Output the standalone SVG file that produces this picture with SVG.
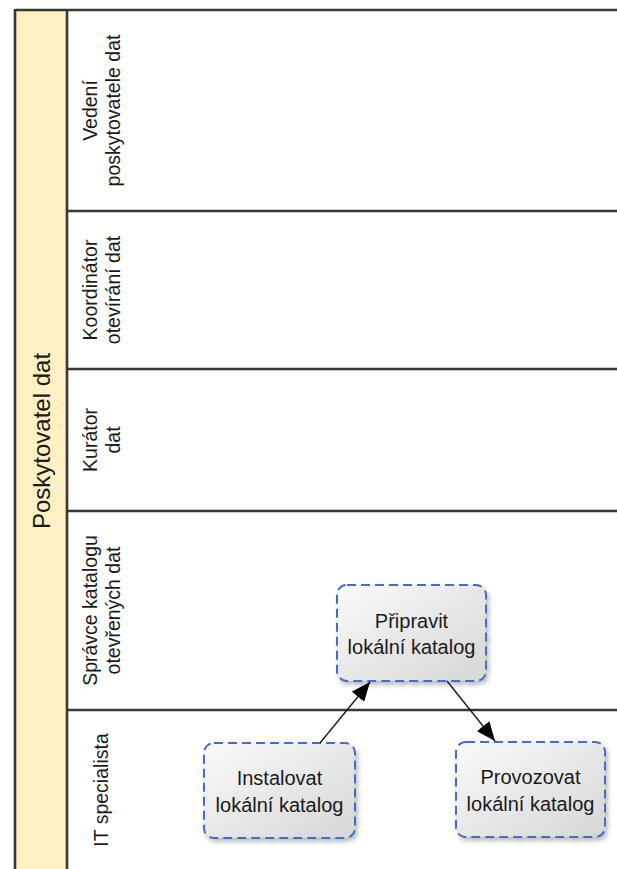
<svg xmlns="http://www.w3.org/2000/svg" width="617" height="869" viewBox="0 0 617 869">
  <defs>
    <linearGradient id="taskFill" x1="0" y1="0" x2="1" y2="1">
      <stop offset="0" stop-color="#fafafa"/>
      <stop offset="1" stop-color="#d6d6d6"/>
    </linearGradient>
    <filter id="shadow" x="-20%" y="-20%" width="140%" height="140%">
      <feDropShadow dx="2" dy="3" stdDeviation="2.5" flood-color="#000" flood-opacity="0.28"/>
    </filter>
    <marker id="arrow" markerUnits="userSpaceOnUse" markerWidth="20" markerHeight="16" refX="19" refY="8" orient="auto">
      <path d="M0,0 L19,8 L0,16 Z" fill="#000"/>
    </marker>
    <style>
      .line { stroke: #383838; stroke-width: 2.6; fill: none; }
      .lbl { font-family: "Liberation Sans", Arial, sans-serif; font-size: 19.5px; fill: #1a1a1a; text-anchor: middle; }
      .pool { font-family: "Liberation Sans", Arial, sans-serif; font-size: 24px; fill: #1a1a1a; text-anchor: middle; }
      .task rect { fill: url(#taskFill); stroke: #4a6cc0; stroke-width: 2; stroke-dasharray: 9 5; filter: url(#shadow); }
      .task text { font-family: "Liberation Sans", Arial, sans-serif; font-size: 20px; fill: #1a1a1a; text-anchor: middle; }
      .conn { stroke: #1a1a1a; stroke-width: 1.4; fill: none; marker-end: url(#arrow); }
    </style>
  </defs>

  <rect x="0" y="0" width="617" height="869" fill="#ffffff"/>

  <g id="pool">
    <rect x="15" y="10" width="52" height="870" fill="#fef0c2"/>
    <line class="line" x1="15" y1="10" x2="617" y2="10" stroke-width="3"/>
    <line class="line" x1="15" y1="9" x2="15" y2="869"/>
    <line class="line" x1="67" y1="10" x2="67" y2="869"/>
    <text class="pool" transform="translate(0,441) rotate(-90)" x="0" y="50">Poskytovatel dat</text>
  </g>

  <g id="lane-vedeni">
    <text class="lbl" transform="translate(0,110.5) rotate(-90)" x="0" y="97">Vedení</text>
    <text class="lbl" transform="translate(0,110.5) rotate(-90)" x="0" y="120">poskytovatele dat</text>
    <line class="line" x1="67" y1="211" x2="617" y2="211"/>
  </g>

  <g id="lane-koordinator">
    <text class="lbl" transform="translate(0,290) rotate(-90)" x="0" y="97">Koordinátor</text>
    <text class="lbl" transform="translate(0,290) rotate(-90)" x="0" y="120">otevírání dat</text>
    <line class="line" x1="67" y1="369" x2="617" y2="369"/>
  </g>

  <g id="lane-kurator">
    <text class="lbl" transform="translate(0,440) rotate(-90)" x="0" y="97">Kurátor</text>
    <text class="lbl" transform="translate(0,440) rotate(-90)" x="0" y="120">dat</text>
    <line class="line" x1="67" y1="511" x2="617" y2="511"/>
  </g>

  <g id="lane-spravce">
    <text class="lbl" transform="translate(0,610.5) rotate(-90)" x="0" y="97">Správce katalogu</text>
    <text class="lbl" transform="translate(0,610.5) rotate(-90)" x="0" y="120">otevřených dat</text>
    <line class="line" x1="67" y1="710" x2="617" y2="710"/>
  </g>

  <g id="lane-it">
    <text class="lbl" transform="translate(0,790) rotate(-90)" x="0" y="108">IT specialista</text>
  </g>

  <g id="task-pripravit" class="task">
    <rect x="337" y="585" width="149" height="96" rx="10" ry="10"/>
    <text x="411.5" y="627.5">Připravit</text>
    <text x="411.5" y="654">lokální katalog</text>
  </g>

  <g id="task-instalovat" class="task">
    <rect x="204" y="743" width="151" height="95" rx="10" ry="10"/>
    <text x="279.5" y="785">Instalovat</text>
    <text x="279.5" y="811.5">lokální katalog</text>
  </g>

  <g id="task-provozovat" class="task">
    <rect x="456" y="742" width="149" height="95" rx="10" ry="10"/>
    <text x="530.5" y="784">Provozovat</text>
    <text x="530.5" y="810.5">lokální katalog</text>
  </g>

  <g id="connectors">
    <path class="conn" d="M320,743 L370,682"/>
    <path class="conn" d="M447,681 L495,741"/>
  </g>
</svg>
